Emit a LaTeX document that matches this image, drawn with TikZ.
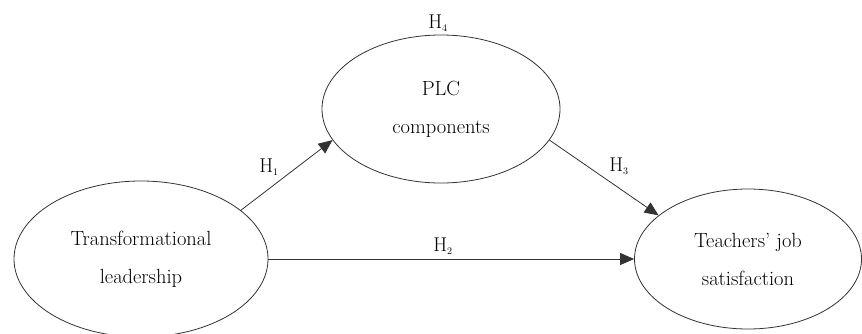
\documentclass[tikz,border=0pt]{standalone}
\usetikzlibrary{arrows.meta,shapes.geometric}

\tikzset{
  construct/.style={ellipse, draw=black!80, line width=0.8pt, inner sep=0pt,
    align=center, font=\fontsize{20.5}{38}\selectfont},
  path/.style={draw=black!80, line width=0.8pt,
    -{Triangle[length=14pt,width=12pt]}},
  hyp/.style={font=\fontsize{20}{22}\selectfont, inner sep=1pt}
}

\begin{document}
\begin{tikzpicture}[x=1pt, y=-1pt]
  \useasboundingbox (0,0) rectangle (862,333);

  % latent constructs
  \node[construct, minimum width=254pt, minimum height=156pt] (tl) at (141,259)
    {Transformational\\leadership};
  \node[construct, minimum width=238pt, minimum height=148pt] (plc) at (441,109)
    {PLC\\components};
  \node[construct, minimum width=227pt, minimum height=140pt] (tjs) at (748,259)
    {Teachers' job\\satisfaction};

  % hypothesised paths
  \draw[path] (tl.26.6) -- (plc.196);
  \draw[path] (plc.344) -- (tjs.154.7);
  \draw[path] (tl.east) -- (tjs.west);

  % hypothesis labels
  \node[hyp] (h1) at (269,167) {H$_{\scriptscriptstyle 1}$};
  \node[hyp] (h2) at (443,246) {H$_{\scriptscriptstyle 2}$};
  \node[hyp] (h3) at (619,166) {H$_{\scriptscriptstyle 3}$};
  \node[hyp] (h4) at (438,23) {H$_{\scriptscriptstyle 4}$};
\end{tikzpicture}
\end{document}
